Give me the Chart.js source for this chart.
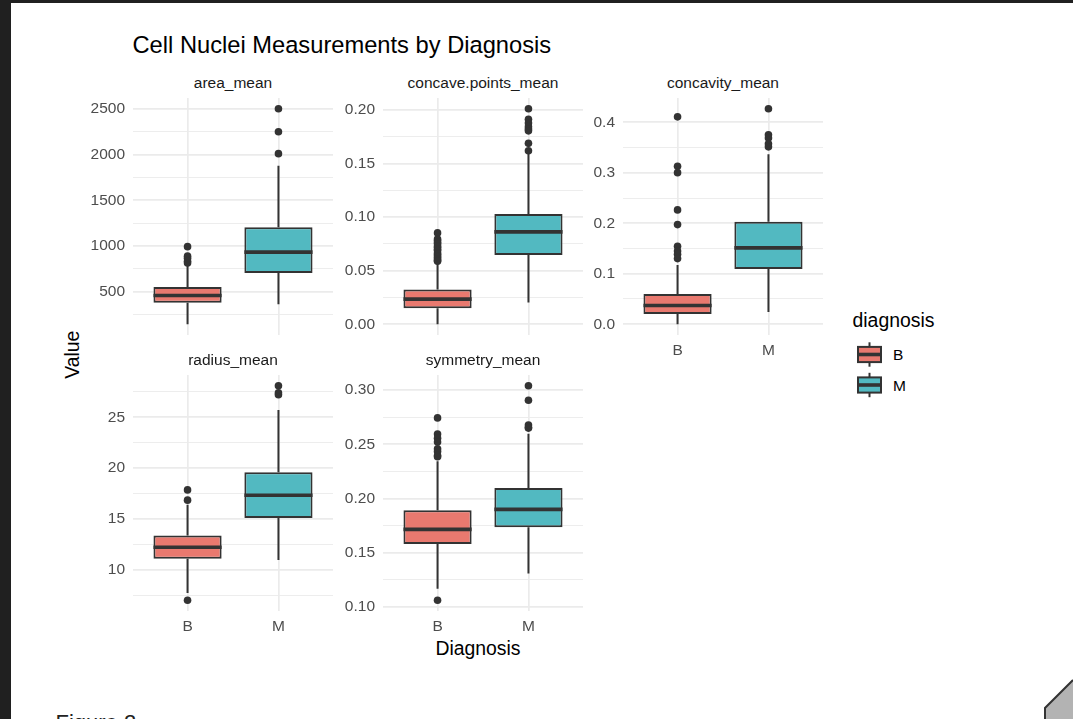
<!DOCTYPE html>
<html>
<head>
<meta charset="utf-8">
<title>Cell Nuclei Measurements by Diagnosis</title>
<script src="https://cdn.jsdelivr.net/npm/chart.js@4.4.1/dist/chart.umd.min.js"></script>
<style>
  body { margin: 0; width: 1073px; height: 719px; overflow: hidden; background: #fff; position: relative;
         font-family: "Liberation Sans", Arial, sans-serif; }
  .txt { position: absolute; white-space: nowrap; line-height: 1; }
  canvas { position: absolute; }
</style>
</head>
<body>
<div style="position:absolute;left:0;top:0;width:11px;height:719px;background:#202020"></div>
<div style="position:absolute;left:0;top:0;width:1073px;height:3px;background:#202020"></div>

<div class="txt" style="left:132.5px;top:33.8px;font-size:23.7px;color:#000">Cell Nuclei Measurements by Diagnosis</div>
<div class="txt" style="left:378px;top:638.6px;width:200px;text-align:center;font-size:19.4px;color:#000">Diagnosis</div>
<div class="txt" style="left:22.8px;top:345.3px;width:100px;height:19.4px;text-align:center;font-size:19.4px;color:#000;transform:rotate(-90deg)">Value</div>
<div class="txt" style="left:852.5px;top:310.9px;font-size:19.4px;color:#000">diagnosis</div>
<div class="txt" style="left:55.5px;top:711.5px;font-size:22px;color:#222">Figure 2</div>

<svg id="legend" width="1073" height="719" style="position:absolute;left:0;top:0"></svg>

<script>
const diagnoses = ['B', 'M'];
const panelNames = ['area_mean', 'concave.points_mean', 'concavity_mean', 'radius_mean', 'symmetry_mean'];

// each group: lower whisker, Q1, median, Q3, upper whisker
const areaB = [143.5, 378.2, 458.4, 551.1, 781.0];
const areaM = [361.6, 705.3, 932.0, 1203.8, 1878.0];
const areaOutB = [992.1, 888.3, 866.0, 832.0, 814.0];
const areaOutM = [2010.0, 2250.0, 2501.0];
const areaTicks = ['500', '1000', '1500', '2000', '2500'];

const concaveB = [0.0, 0.01502, 0.02344, 0.03251, 0.0578];
const concaveM = [0.02031, 0.06462, 0.08628, 0.1030, 0.1595];
const concaveOutB = [0.0853, 0.0795, 0.0781, 0.0764, 0.0752, 0.0731, 0.0719, 0.0701, 0.0689,
                     0.0665, 0.0652, 0.0638, 0.0623, 0.0609, 0.0597, 0.0588];
const concaveOutM = [0.2012, 0.1913, 0.1878, 0.1845, 0.1823, 0.1806, 0.1689, 0.1620];
const concaveTicks = ['0.00', '0.05', '0.10', '0.15', '0.20'];

const concavityB = [0.0, 0.02031, 0.03709, 0.05999, 0.1175];
const concavityM = [0.02398, 0.1096, 0.1513, 0.2032, 0.3368];
const concavityOutB = [0.4108, 0.3130, 0.3003, 0.2265, 0.1974, 0.1546, 0.1450, 0.1385, 0.1300];
const concavityOutM = [0.4268, 0.3754, 0.3689, 0.3576, 0.3514];
const concavityTicks = ['0.0', '0.1', '0.2', '0.3', '0.4'];

const radiusB = [7.691, 11.08, 12.20, 13.37, 16.40];
const radiusM = [10.95, 15.08, 17.32, 19.59, 25.73];
const radiusOutB = [6.981, 16.84, 17.85];
const radiusOutM = [27.22, 27.42, 28.11];
const radiusTicks = ['10', '15', '20', '25'];

const symmetryB = [0.1167, 0.1580, 0.1714, 0.1890, 0.2343];
const symmetryM = [0.1308, 0.1735, 0.1899, 0.2095, 0.2597];
const symmetryOutB = [0.2743, 0.2595, 0.2556, 0.2521, 0.2459, 0.2434, 0.2395, 0.2384, 0.1060];
const symmetryOutM = [0.3040, 0.2906, 0.2678, 0.2655, 0.2649];
const symmetryTicks = ['0.10', '0.15', '0.20', '0.25', '0.30'];

// layout
const fills = ['#E9796F', '#52B9C1'];
const ink = '#333333';
const colLeft = [133, 383, 623];
const rowTop = [98, 375];
const rowH = [237, 236];
const plotW = 200;
const yAxisW = 60;
const xAxisH = 40;
const lineW = 2;

Chart.defaults.font.family = '"Liberation Sans", Arial, sans-serif';

const panels = [
  { box: [areaB, areaM], out: [areaOutB, areaOutM], ticks: areaTicks, col: 0, row: 0, xLab: false },
  { box: [concaveB, concaveM], out: [concaveOutB, concaveOutM], ticks: concaveTicks, col: 1, row: 0, xLab: false },
  { box: [concavityB, concavityM], out: [concavityOutB, concavityOutM], ticks: concavityTicks, col: 2, row: 0, xLab: true },
  { box: [radiusB, radiusM], out: [radiusOutB, radiusOutM], ticks: radiusTicks, col: 0, row: 1, xLab: true },
  { box: [symmetryB, symmetryM], out: [symmetryOutB, symmetryOutM], ticks: symmetryTicks, col: 1, row: 1, xLab: true }
];

// ggplot style 5% expansion
function yRange(p) {
  const all = p.box.flat().concat(p.out.flat());
  const lo = Math.min(...all), hi = Math.max(...all);
  const pad = (hi - lo) * 0.05;
  return [lo - pad, hi + pad];
}

function makeTicks(labels, min, max) {
  const vals = labels.map(Number);
  const step = vals[1] - vals[0];
  const out = vals.map((v, i) => ({ value: v, text: labels[i] }));
  for (let i = -1; i < vals.length; i++) {
    const m = vals[0] + (i + 0.5) * step;
    if (m > min && m < max) out.push({ value: m, minor: true });
  }
  return out.sort((a, b) => a.value - b.value);
}

function noPad(s) {
  s.paddingTop = 0; s.paddingBottom = 0; s.paddingLeft = 0; s.paddingRight = 0;
}

function boxParts(stats) {
  return {
    id: 'boxParts',
    beforeDatasetsDraw(chart) {
      const y = chart.scales.y;
      const c = chart.ctx;
      c.save();
      c.strokeStyle = ink;
      c.lineWidth = lineW;
      chart.getDatasetMeta(0).data.forEach((bar, i) => {
        const s = stats[i];
        c.beginPath();
        c.moveTo(bar.x, y.getPixelForValue(s[0]));
        c.lineTo(bar.x, y.getPixelForValue(s[1]));
        c.moveTo(bar.x, y.getPixelForValue(s[3]));
        c.lineTo(bar.x, y.getPixelForValue(s[4]));
        c.stroke();
      });
      c.restore();
    },
    afterDatasetsDraw(chart) {
      const y = chart.scales.y;
      const c = chart.ctx;
      c.save();
      c.strokeStyle = ink;
      c.lineWidth = lineW * 1.8;
      chart.getDatasetMeta(0).data.forEach((bar, i) => {
        const py = y.getPixelForValue(stats[i][2]);
        c.beginPath();
        c.moveTo(bar.x - bar.width / 2, py);
        c.lineTo(bar.x + bar.width / 2, py);
        c.stroke();
      });
      c.restore();
    }
  };
}

panels.forEach((p, k) => {
  const [ymin, ymax] = yRange(p);
  const left = colLeft[p.col], top = rowTop[p.row], h = rowH[p.row];

  const strip = document.createElement('div');
  strip.className = 'txt';
  strip.style.cssText = `left:${left}px;top:${top - 22.6}px;width:${plotW}px;text-align:center;font-size:15.5px;color:#1A1A1A`;
  strip.textContent = panelNames[k];
  document.body.appendChild(strip);

  const cv = document.createElement('canvas');
  cv.width = yAxisW + plotW;
  cv.height = h + xAxisH;
  cv.style.left = (left - yAxisW) + 'px';
  cv.style.top = top + 'px';
  document.body.appendChild(cv);

  new Chart(cv, {
    type: 'bar',
    data: {
      datasets: [
        {
          type: 'bar',
          data: p.box.map((s, i) => ({ x: i + 1, y: [s[1], s[3]] })),
          backgroundColor: fills,
          borderColor: ink,
          borderWidth: lineW,
          borderSkipped: false,
          categoryPercentage: 0.75,
          barPercentage: 1
        },
        {
          type: 'scatter',
          data: p.out.flatMap((arr, i) => arr.map(v => ({ x: i + 1, y: v }))),
          pointRadius: 3.8,
          pointHoverRadius: 3.8,
          backgroundColor: ink,
          borderWidth: 0
        }
      ]
    },
    options: {
      responsive: false,
      animation: false,
      events: [],
      layout: { padding: 0, autoPadding: false },
      plugins: { legend: { display: false }, tooltip: { enabled: false } },
      scales: {
        x: {
          type: 'linear', min: 0.4, max: 2.6, offset: false,
          border: { display: false },
          grid: { color: '#EBEBEB', lineWidth: 1.7, drawTicks: false, offset: false },
          afterBuildTicks: s => { s.ticks = [{ value: 1 }, { value: 2 }]; },
          afterFit: s => { s.height = xAxisH; noPad(s); },
          ticks: {
            display: p.xLab, padding: 6, color: '#4D4D4D', font: { size: 15.5 },
            callback: v => diagnoses[v - 1]
          }
        },
        y: {
          type: 'linear', min: ymin, max: ymax,
          border: { display: false },
          grid: {
            color: '#EBEBEB', drawTicks: false,
            lineWidth: c => (c.tick && c.tick.minor ? 0.9 : 1.7)
          },
          afterBuildTicks: s => { s.ticks = makeTicks(p.ticks, ymin, ymax); },
          afterFit: s => { s.width = yAxisW; noPad(s); },
          ticks: {
            autoSkip: false, padding: 8, color: '#4D4D4D', font: { size: 15.5 },
            callback: (v, i, t) => t[i].text || ''
          }
        }
      }
    },
    plugins: [boxParts(p.box)]
  });
});

// legend keys
const svg = document.getElementById('legend');
let keys = '';
diagnoses.forEach((d, i) => {
  const cy = 354.5 + i * 30.5;
  keys += `<line x1="869.5" y1="${cy - 12.2}" x2="869.5" y2="${cy + 12.2}" stroke="${ink}" stroke-width="${lineW}"/>`;
  keys += `<rect x="858" y="${cy - 7.6}" width="23" height="15.2" fill="${fills[i]}" stroke="${ink}" stroke-width="${lineW}"/>`;
  keys += `<line x1="858" y1="${cy}" x2="881" y2="${cy}" stroke="${ink}" stroke-width="${lineW * 1.8}"/>`;
  keys += `<text x="893" y="${cy + 5.5}" font-size="15.5" font-family="Liberation Sans, Arial, sans-serif" fill="#000">${d}</text>`;
});
keys += `<polygon points="1045,719 1045,708 1073,680 1073,719" fill="#B3B3B3"/>`;
keys += `<polyline points="1045,719 1045,708 1073,680" fill="none" stroke="#333" stroke-width="2"/>`;
svg.innerHTML = keys;
</script>
</body>
</html>
